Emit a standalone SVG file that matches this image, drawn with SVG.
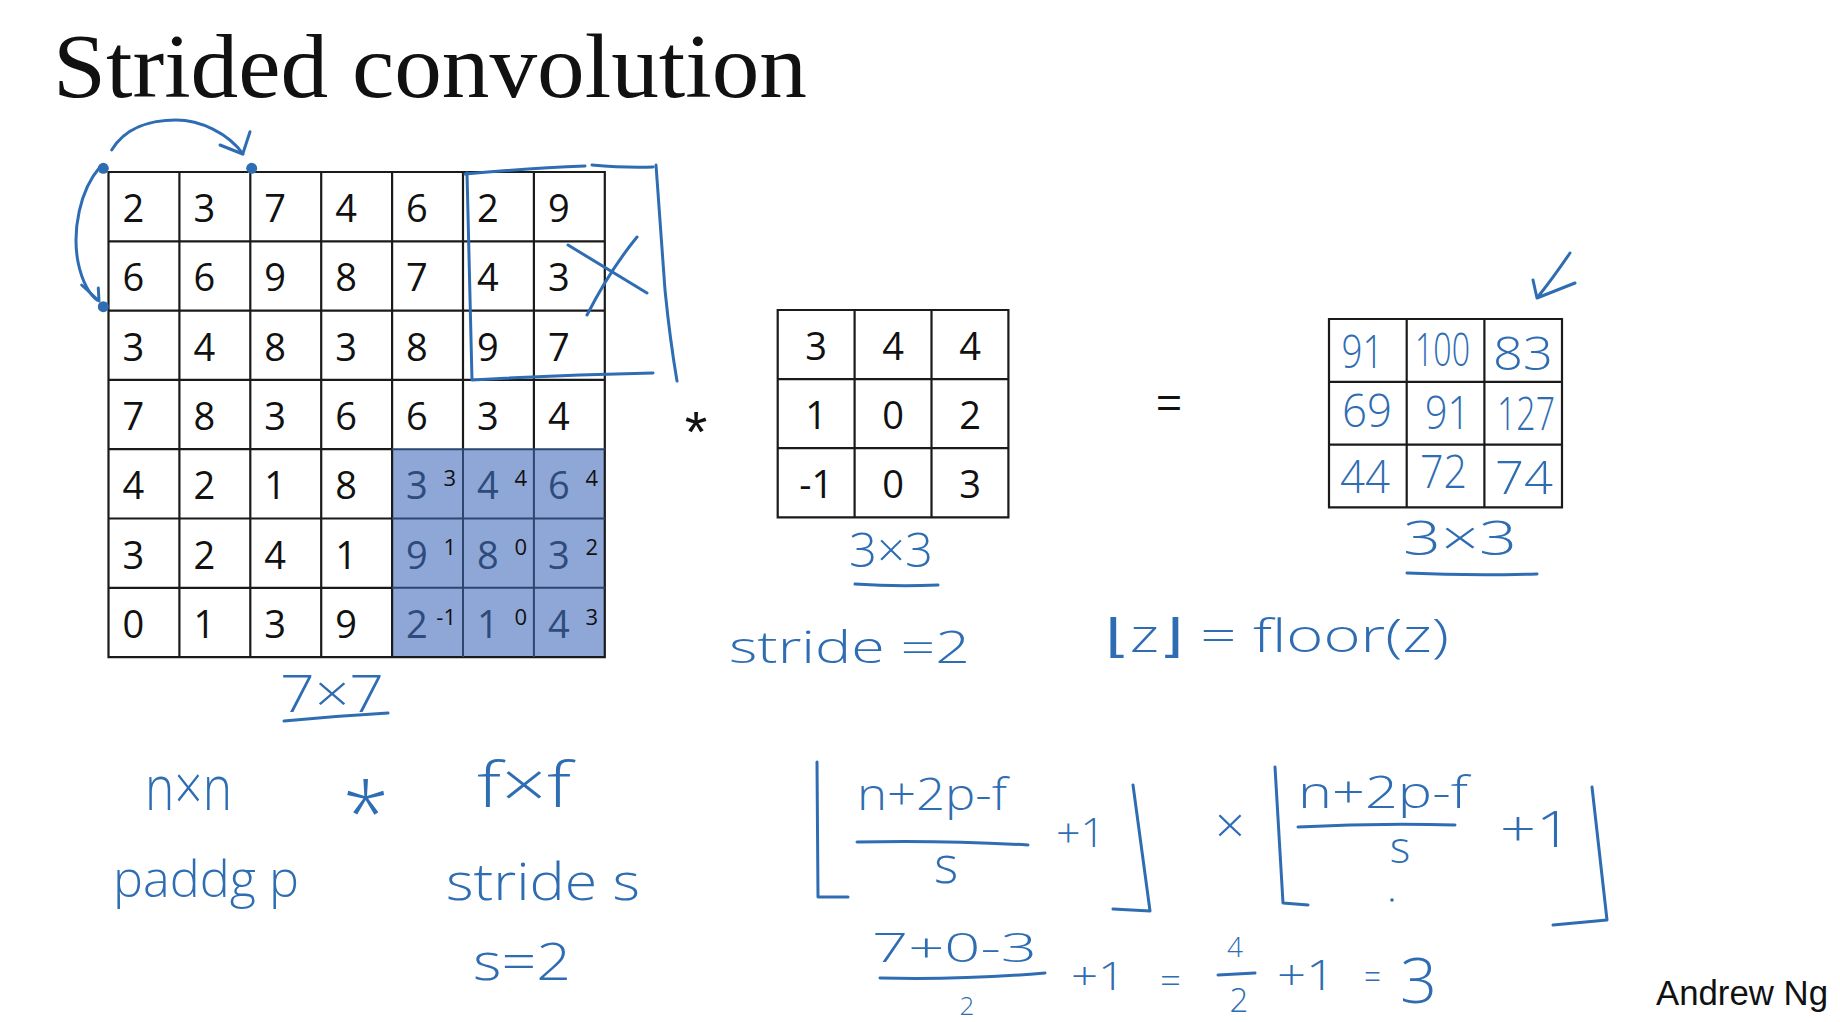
<svg xmlns="http://www.w3.org/2000/svg" width="1840" height="1022" viewBox="0 0 1840 1022">
<style>
.bg{fill:#ffffff}
.gl{fill:none;stroke:#1a1a1a;stroke-width:2.2}
.gls{fill:none;stroke:#2c4670;stroke-width:2}
.num{font-family:"Open Sans","Liberation Sans",sans-serif;font-size:38px;fill:#111}
.numc{font-family:"Open Sans","Liberation Sans",sans-serif;font-size:38px;fill:#111;text-anchor:middle}
.snum{font-family:"Open Sans","Liberation Sans",sans-serif;font-size:38px;fill:#2d4b7c}
.sup{font-family:"Open Sans","Liberation Sans",sans-serif;font-size:22px;fill:#111;text-anchor:end}
.hand{font-family:"Open Sans","DejaVu Sans",sans-serif;font-weight:300;fill:#2f6db3}
.handm{font-family:"Open Sans","DejaVu Sans",sans-serif;font-weight:300;fill:#2f6db3;text-anchor:middle}
.pen{fill:none;stroke:#2f6db3;stroke-width:3;stroke-linecap:round;stroke-linejoin:round}
.dot{fill:#2f6db3}
</style>
<rect class="bg" x="0" y="0" width="1840" height="1022"/>

<text id="title" x="53" y="97" font-family="'Liberation Serif','DejaVu Serif',serif" font-size="91" fill="#111" textLength="754" lengthAdjust="spacingAndGlyphs">Strided convolution</text>

<g id="input-7x7">
  <rect x="392.1" y="449.2" width="212.7" height="207.9" fill="#8fa7d6"/>
  <path class="gl" d="M108.5,172H604.8V657.1H108.5Z M179.4,172V657.1 M250.3,172V657.1 M321.2,172V657.1 M392.1,172V657.1 M463,172V449.2 M533.9,172V449.2 M108.5,241.3H604.8 M108.5,310.6H604.8 M108.5,379.9H604.8 M108.5,449.2H392.1 M108.5,518.5H392.1 M108.5,587.8H392.1"/>
  <path class="gls" d="M463,449.2V657.1 M533.9,449.2V657.1 M392.1,449.2H604.8 M392.1,518.5H604.8 M392.1,587.8H604.8"/>
  <g class="num">
    <text x="122.5" y="222">2</text><text x="193.4" y="222">3</text><text x="264.3" y="222">7</text><text x="335.2" y="222">4</text><text x="406.1" y="222">6</text><text x="477" y="222">2</text><text x="547.9" y="222">9</text>
    <text x="122.5" y="291.3">6</text><text x="193.4" y="291.3">6</text><text x="264.3" y="291.3">9</text><text x="335.2" y="291.3">8</text><text x="406.1" y="291.3">7</text><text x="477" y="291.3">4</text><text x="547.9" y="291.3">3</text>
    <text x="122.5" y="360.6">3</text><text x="193.4" y="360.6">4</text><text x="264.3" y="360.6">8</text><text x="335.2" y="360.6">3</text><text x="406.1" y="360.6">8</text><text x="477" y="360.6">9</text><text x="547.9" y="360.6">7</text>
    <text x="122.5" y="429.9">7</text><text x="193.4" y="429.9">8</text><text x="264.3" y="429.9">3</text><text x="335.2" y="429.9">6</text><text x="406.1" y="429.9">6</text><text x="477" y="429.9">3</text><text x="547.9" y="429.9">4</text>
    <text x="122.5" y="499.2">4</text><text x="193.4" y="499.2">2</text><text x="264.3" y="499.2">1</text><text x="335.2" y="499.2">8</text>
    <text x="122.5" y="568.5">3</text><text x="193.4" y="568.5">2</text><text x="264.3" y="568.5">4</text><text x="335.2" y="568.5">1</text>
    <text x="122.5" y="637.8">0</text><text x="193.4" y="637.8">1</text><text x="264.3" y="637.8">3</text><text x="335.2" y="637.8">9</text>
  </g>
  <g class="snum">
    <text x="406.1" y="499.2">3</text><text x="477" y="499.2">4</text><text x="547.9" y="499.2">6</text>
    <text x="406.1" y="568.5">9</text><text x="477" y="568.5">8</text><text x="547.9" y="568.5">3</text>
    <text x="406.1" y="637.8">2</text><text x="477" y="637.8">1</text><text x="547.9" y="637.8">4</text>
  </g>
  <g class="sup">
    <text x="456" y="486">3</text><text x="527" y="486">4</text><text x="598" y="486">4</text>
    <text x="456" y="555.3">1</text><text x="527" y="555.3">0</text><text x="598" y="555.3">2</text>
    <text x="456" y="624.6">-1</text><text x="527" y="624.6">0</text><text x="598" y="624.6">3</text>
  </g>
</g>

<text id="conv-op" x="696" y="452" font-family="'Liberation Sans',sans-serif" font-size="58" fill="#111" text-anchor="middle">*</text>

<g id="kernel-3x3">
  <path class="gl" d="M777.7,310H1008.4V517.3H777.7Z M854.6,310V517.3 M931.5,310V517.3 M777.7,379.1H1008.4 M777.7,448.2H1008.4"/>
  <g class="numc">
    <text x="816.2" y="360">3</text><text x="893.1" y="360">4</text><text x="970" y="360">4</text>
    <text x="816.2" y="429.1">1</text><text x="893.1" y="429.1">0</text><text x="970" y="429.1">2</text>
    <text x="816.2" y="498.2">-1</text><text x="893.1" y="498.2">0</text><text x="970" y="498.2">3</text>
  </g>
</g>

<text id="equals" x="1156" y="417" font-family="'Liberation Sans',sans-serif" font-size="42" fill="#111" textLength="26" lengthAdjust="spacingAndGlyphs">=</text>

<g id="output-3x3">
  <path class="gl" d="M1329,319H1562V507.4H1329Z M1406.7,319V507.4 M1484.4,319V507.4 M1329,381.8H1562 M1329,444.6H1562"/>
  <g class="handm" font-size="46">
    <text x="1362.5" y="368" textLength="42" lengthAdjust="spacingAndGlyphs">91</text>
    <text x="1442.5" y="366" textLength="55" lengthAdjust="spacingAndGlyphs">100</text>
    <text x="1523" y="370" textLength="60" lengthAdjust="spacingAndGlyphs">83</text>
    <text x="1367" y="427" textLength="50" lengthAdjust="spacingAndGlyphs">69</text>
    <text x="1447.5" y="429" textLength="45" lengthAdjust="spacingAndGlyphs">91</text>
    <text x="1526" y="430" textLength="58" lengthAdjust="spacingAndGlyphs">127</text>
    <text x="1365" y="493" textLength="50" lengthAdjust="spacingAndGlyphs">44</text>
    <text x="1443.5" y="488" textLength="47" lengthAdjust="spacingAndGlyphs">72</text>
    <text x="1524" y="494" textLength="58" lengthAdjust="spacingAndGlyphs">74</text>
  </g>
</g>

<g id="labels" class="hand">
  <text x="280" y="712" font-size="52" textLength="104" lengthAdjust="spacingAndGlyphs">7×7</text>
  <text x="849" y="567" font-size="48" textLength="84" lengthAdjust="spacingAndGlyphs">3×3</text>
  <text x="1403" y="555" font-size="48" textLength="114" lengthAdjust="spacingAndGlyphs">3×3</text>
  <text x="729" y="663" font-size="44" textLength="241" lengthAdjust="spacingAndGlyphs">stride =2</text>
  <text x="1105" y="652" font-size="46" textLength="344" lengthAdjust="spacingAndGlyphs">⌊z⌋ = floor(z)</text>
</g>

<g id="general-formula" class="hand">
  <text x="145" y="810" font-size="62" textLength="87" lengthAdjust="spacingAndGlyphs">n×n</text>
  <text x="366" y="844" font-size="84" text-anchor="middle">*</text>
  <text x="477" y="807" font-size="62" textLength="94" lengthAdjust="spacingAndGlyphs">f×f</text>
  <text x="113" y="897" font-size="50" textLength="186" lengthAdjust="spacingAndGlyphs">paddg p</text>
  <text x="446" y="900" font-size="52" textLength="194" lengthAdjust="spacingAndGlyphs">stride s</text>
  <text x="473" y="980" font-size="52" textLength="98" lengthAdjust="spacingAndGlyphs">s=2</text>
</g>

<g id="output-size-formula" class="hand">
  <text x="857" y="810" font-size="44" textLength="150" lengthAdjust="spacingAndGlyphs">n+2p-f</text>
  <text x="946" y="883" font-size="52" text-anchor="middle">s</text>
  <text x="1056" y="847" font-size="40" textLength="49" lengthAdjust="spacingAndGlyphs">+1</text>
  <text x="1215" y="843" font-size="50" textLength="30" lengthAdjust="spacingAndGlyphs">×</text>
  <text x="1298" y="808" font-size="44" textLength="170" lengthAdjust="spacingAndGlyphs">n+2p-f</text>
  <text x="1400" y="863" font-size="44" text-anchor="middle">s</text>
  <text x="1500" y="847" font-size="50" textLength="72" lengthAdjust="spacingAndGlyphs">+1</text>
  <text x="872" y="962" font-size="40" textLength="165" lengthAdjust="spacingAndGlyphs">7+0-3</text>
  <text x="967" y="1015" font-size="26" text-anchor="middle">2</text>
  <text x="1071" y="990" font-size="38" textLength="54" lengthAdjust="spacingAndGlyphs">+1</text>
  <text x="1160" y="994" font-size="36" textLength="21" lengthAdjust="spacingAndGlyphs">=</text>
  <text x="1235" y="957" font-size="28" text-anchor="middle">4</text>
  <text x="1239" y="1012" font-size="33" text-anchor="middle">2</text>
  <text x="1277" y="990" font-size="42" textLength="58" lengthAdjust="spacingAndGlyphs">+1</text>
  <text x="1364" y="990" font-size="36" textLength="17" lengthAdjust="spacingAndGlyphs">=</text>
  <text x="1400" y="1003" font-size="62" textLength="37" lengthAdjust="spacingAndGlyphs">3</text>
</g>

<g id="connectors">
  <path class="pen" d="M111.7,150 C125,128 150,120 176,120 C200,120 228,133 243,154"/>
  <path class="pen" d="M220,145 L242.7,154 L250,131.7"/>
  <path class="pen" d="M100,167 C80,190 72,230 78,262 C82,282 90,295 97,300"/>
  <path class="pen" d="M81.7,285 L99,301 L98.3,288"/>
  <circle class="dot" cx="103.3" cy="168.3" r="5.5"/>
  <circle class="dot" cx="251.7" cy="168.3" r="5.5"/>
  <circle class="dot" cx="103.3" cy="306.7" r="5.5"/>
  <path class="pen" d="M467,173 L472,380 M465,174 Q530,168 585,166 M592,165 Q625,168 653,167 M656,165 Q660,220 665,290 Q670,340 677,381 M472,380 Q560,375 653,373"/>
  <path class="pen" d="M568,245 L647,293 M637,237 Q610,270 587,315"/>
  <path class="pen" d="M1570,253 Q1553,278 1537,298 M1533,280 L1537,298 L1575,283"/>
  <path class="pen" d="M284,721 Q336,716 388,713"/>
  <path class="pen" d="M855,584 Q897,587 938,585"/>
  <path class="pen" d="M1407,573 Q1470,576 1537,574"/>
  <path class="pen" d="M817,762 L818,897 L848,897"/>
  <path class="pen" d="M1133,785 L1150,911 L1113,909"/>
  <path class="pen" d="M1275,767 L1283,903 L1308,905"/>
  <path class="pen" d="M1592,787 L1607,920 L1553,925"/>
  <path class="pen" d="M857,842 Q940,840 1028,845"/>
  <path class="pen" d="M1298,827 Q1375,823 1455,825"/>
  <path class="pen" d="M880,978 Q960,980 1045,973"/>
  <path class="pen" d="M1218,975 L1255,973"/>
  <circle class="dot" cx="1392" cy="900" r="1.8"/>
</g>

<text id="author" x="1656" y="1005" font-family="'Liberation Sans',sans-serif" font-size="34.5" fill="#111" textLength="172" lengthAdjust="spacingAndGlyphs">Andrew Ng</text>
</svg>
